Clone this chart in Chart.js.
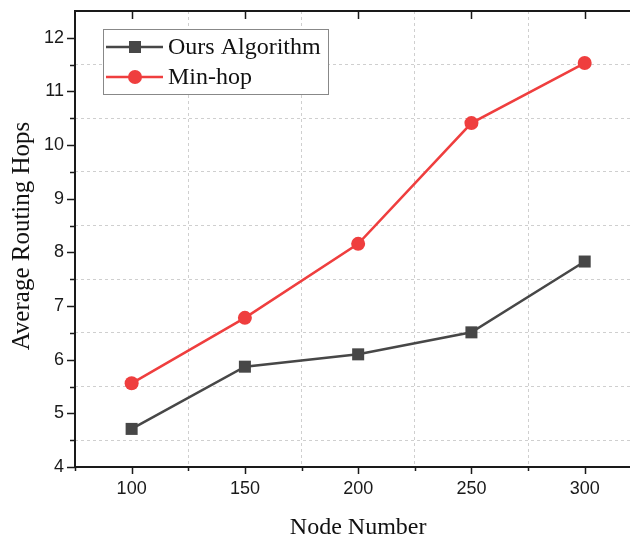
<!DOCTYPE html>
<html>
<head>
<meta charset="utf-8">
<script src="https://cdn.jsdelivr.net/npm/chart.js@4.4.0/dist/chart.umd.min.js"></script>
<style>
  html, body { margin: 0; padding: 0; background: #fff; }
  #wrap { width: 630px; height: 538px; }
</style>
</head>
<body>
<div id="wrap"><canvas id="chart"></canvas></div>
<script>
const nodeNumbers = [100, 150, 200, 250, 300];
const oursHops = [4.71, 5.87, 6.10, 6.51, 7.83];
const minHops = [5.56, 6.78, 8.16, 10.41, 11.53];
const xTickValues = [75, 100, 125, 150, 175, 200, 225, 250, 275, 300];
const yTickValues = [4, 4.5, 5, 5.5, 6, 6.5, 7, 7.5, 8, 8.5, 9, 9.5, 10, 10.5, 11, 11.5, 12];
const seriesNames = ['Ours Algorithm', 'Min-hop'];

const AXIS = '#1a1a1a';
const GRID = '#cfcfcf';
const GRAY = '#474747';
const RED = '#ef3e3e';

const isMajorX = v => v % 50 === 0;
const isMajorY = v => v % 1 === 0;

// axes, ticks, titles and legend in Origin style
const frame = {
  id: 'frame',
  afterDraw(chart) {
    const { ctx, chartArea: a, scales: { x, y } } = chart;
    ctx.save();
    ctx.strokeStyle = AXIS;
    ctx.lineWidth = 2;
    ctx.beginPath();
    ctx.moveTo(a.left, a.top); ctx.lineTo(a.right, a.top);
    ctx.moveTo(a.left, a.top - 1); ctx.lineTo(a.left, a.bottom + 1);
    ctx.moveTo(a.left - 1, a.bottom); ctx.lineTo(a.right, a.bottom);
    ctx.stroke();

    ctx.lineWidth = 1.5;
    ctx.beginPath();
    xTickValues.forEach(v => {
      const px = Math.round(x.getPixelForValue(v)) + 0.5;
      const len = isMajorX(v) ? 7 : 4;
      ctx.moveTo(px, a.bottom); ctx.lineTo(px, a.bottom + len);
      if (isMajorX(v)) { ctx.moveTo(px, a.top); ctx.lineTo(px, a.top + 8); }
    });
    yTickValues.forEach(v => {
      const py = Math.round(y.getPixelForValue(v)) + 0.5;
      const len = isMajorY(v) ? 8 : 5;
      ctx.moveTo(a.left, py); ctx.lineTo(a.left - len, py);
    });
    ctx.stroke();

    // axis titles
    ctx.fillStyle = '#111';
    ctx.textAlign = 'center';
    ctx.textBaseline = 'alphabetic';
    ctx.font = '24px "Liberation Serif"';
    ctx.fillText('Node Number', x.getPixelForValue(200), 534);
    ctx.font = '25px "Liberation Serif"';
    ctx.translate(29, 236);
    ctx.rotate(-Math.PI / 2);
    ctx.fillText('Average Routing Hops', 0, 0);
    ctx.setTransform(1, 0, 0, 1, 0, 0);

    // legend
    ctx.font = '24px "Liberation Serif"';
    ctx.fillStyle = '#fff';
    ctx.fillRect(103.5, 29.5, 225, 65);
    ctx.strokeStyle = '#888';
    ctx.lineWidth = 1;
    ctx.strokeRect(103.5, 29.5, 225, 65);
    chart.data.datasets.forEach((ds, i) => {
      const cy = 47 + i * 30;
      ctx.strokeStyle = ds.borderColor;
      ctx.lineWidth = ds.borderWidth;
      ctx.beginPath();
      ctx.moveTo(106, cy); ctx.lineTo(163, cy);
      ctx.stroke();
      ctx.fillStyle = ds.pointBackgroundColor;
      if (ds.pointStyle === 'rect') {
        ctx.fillRect(135 - 6, cy - 6, 12, 12);
      } else {
        ctx.beginPath();
        ctx.arc(135, cy, 7, 0, Math.PI * 2);
        ctx.fill();
      }
      ctx.fillStyle = '#111';
      ctx.textAlign = 'left';
      ctx.textBaseline = 'middle';
      ctx.fillText(ds.label, 168, cy + 1);
    });
    ctx.restore();
  }
};

new Chart(document.getElementById('chart'), {
  type: 'line',
  data: {
    datasets: [
      {
        label: seriesNames[0],
        data: nodeNumbers.map((n, i) => ({ x: n, y: oursHops[i] })),
        borderColor: GRAY, backgroundColor: GRAY,
        pointBackgroundColor: GRAY, pointBorderColor: GRAY,
        borderWidth: 2.5, pointStyle: 'rect', pointRadius: 8.5, pointBorderWidth: 0
      },
      {
        label: seriesNames[1],
        data: nodeNumbers.map((n, i) => ({ x: n, y: minHops[i] })),
        borderColor: RED, backgroundColor: RED,
        pointBackgroundColor: RED, pointBorderColor: RED,
        borderWidth: 2.5, pointStyle: 'circle', pointRadius: 7, pointBorderWidth: 0
      }
    ]
  },
  options: {
    responsive: true,
    maintainAspectRatio: false,
    animation: false,
    devicePixelRatio: 1,
    layout: { autoPadding: false, padding: { top: 11, right: 0, left: 0, bottom: 0 } },
    plugins: { legend: { display: false }, tooltip: { enabled: false } },
    scales: {
      x: {
        type: 'linear', min: 75, max: 320,
        afterBuildTicks: s => { s.ticks = xTickValues.map(v => ({ value: v })); },
        afterFit: s => { s.height = 71; s.paddingLeft = 0; s.paddingRight = 0; },
        grid: {
          drawTicks: false, lineWidth: 1,
          color: c => (c.tick && !isMajorX(c.tick.value)) ? GRID : 'rgba(0,0,0,0)'
        },
        border: { display: false, dash: [3, 3] },
        ticks: {
          padding: 11, color: AXIS, maxRotation: 0, autoSkip: false,
          font: { family: '"Liberation Sans"', size: 18 },
          callback: v => isMajorX(v) ? String(v) : ''
        }
      },
      y: {
        type: 'linear', min: 4, max: 12.5,
        afterBuildTicks: s => { s.ticks = yTickValues.map(v => ({ value: v })); },
        afterFit: s => { s.width = 75; s.paddingTop = 0; s.paddingBottom = 0; },
        grid: {
          drawTicks: false, lineWidth: 1,
          color: c => (c.tick && !isMajorY(c.tick.value)) ? GRID : 'rgba(0,0,0,0)'
        },
        border: { display: false, dash: [3, 3] },
        ticks: {
          padding: 11, color: AXIS, autoSkip: false,
          font: { family: '"Liberation Sans"', size: 18 },
          callback: v => isMajorY(v) ? String(v) : ''
        }
      }
    }
  },
  plugins: [frame]
});
</script>
</body>
</html>
